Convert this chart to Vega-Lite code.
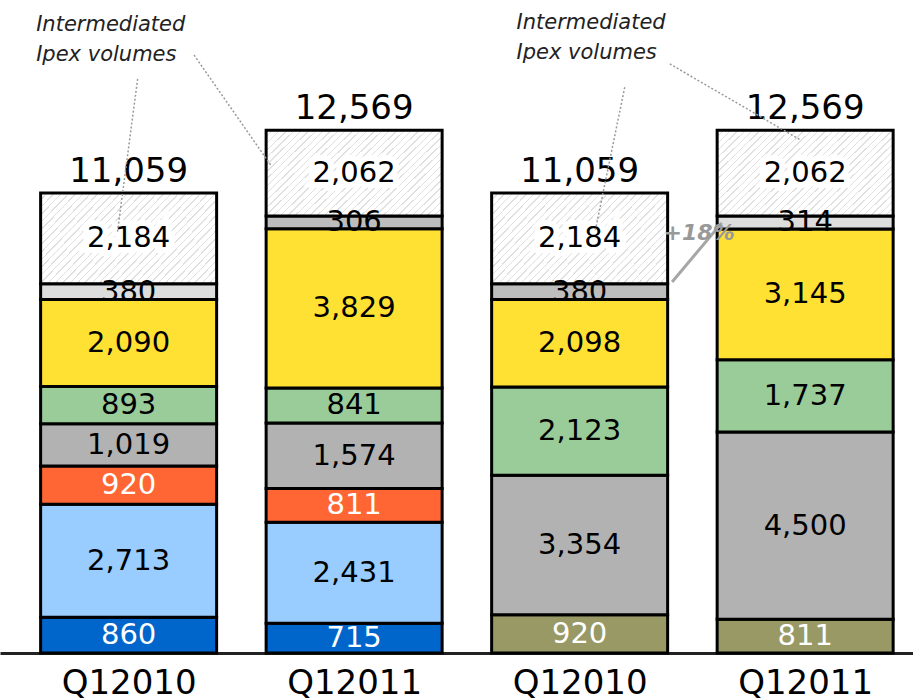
{
  "$schema": "https://vega.github.io/schema/vega-lite/v6.json",
  "width": 913,
  "height": 653,
  "autosize": "none",
  "padding": {"left": 0, "right": 0, "top": 0, "bottom": 47},
  "background": "white",
  "config": {"view": {"stroke": null}},
  "datasets": {
    "volumes": [
      {"bar": 1, "quarter": "Q12010", "series": "Series 1", "value": 860},
      {"bar": 1, "quarter": "Q12010", "series": "Series 2", "value": 2713},
      {"bar": 1, "quarter": "Q12010", "series": "Series 3", "value": 920},
      {"bar": 1, "quarter": "Q12010", "series": "Series 4", "value": 1019},
      {"bar": 1, "quarter": "Q12010", "series": "Series 5", "value": 893},
      {"bar": 1, "quarter": "Q12010", "series": "Series 6", "value": 2090},
      {"bar": 1, "quarter": "Q12010", "series": "Series 7a", "value": 380},
      {"bar": 1, "quarter": "Q12010", "series": "Series 8", "value": 2184},
      {"bar": 2, "quarter": "Q12011", "series": "Series 1", "value": 715},
      {"bar": 2, "quarter": "Q12011", "series": "Series 2", "value": 2431},
      {"bar": 2, "quarter": "Q12011", "series": "Series 3", "value": 811},
      {"bar": 2, "quarter": "Q12011", "series": "Series 4", "value": 1574},
      {"bar": 2, "quarter": "Q12011", "series": "Series 5", "value": 841},
      {"bar": 2, "quarter": "Q12011", "series": "Series 6", "value": 3829},
      {"bar": 2, "quarter": "Q12011", "series": "Series 7b", "value": 306},
      {"bar": 2, "quarter": "Q12011", "series": "Series 8", "value": 2062},
      {"bar": 3, "quarter": "Q12010", "series": "Series 0", "value": 920},
      {"bar": 3, "quarter": "Q12010", "series": "Series 4", "value": 3354},
      {"bar": 3, "quarter": "Q12010", "series": "Series 5", "value": 2123},
      {"bar": 3, "quarter": "Q12010", "series": "Series 6", "value": 2098},
      {"bar": 3, "quarter": "Q12010", "series": "Series 7b", "value": 380},
      {"bar": 3, "quarter": "Q12010", "series": "Series 8", "value": 2184},
      {"bar": 4, "quarter": "Q12011", "series": "Series 0", "value": 811},
      {"bar": 4, "quarter": "Q12011", "series": "Series 4", "value": 4500},
      {"bar": 4, "quarter": "Q12011", "series": "Series 5", "value": 1737},
      {"bar": 4, "quarter": "Q12011", "series": "Series 6", "value": 3145},
      {"bar": 4, "quarter": "Q12011", "series": "Series 7a", "value": 314},
      {"bar": 4, "quarter": "Q12011", "series": "Series 8", "value": 2062}
    ],
    "notes": [
      {"x": 0.59, "y": 14950, "label": ["Intermediated", "Ipex volumes"]},
      {"x": 2.72, "y": 15000, "label": ["Intermediated", "Ipex volumes"]}
    ],
    "leaders": [
      {"x": 1.04, "y": 13800, "x2": 0.95, "y2": 10100},
      {"x": 1.29, "y": 14375, "x2": 1.63, "y2": 11730},
      {"x": 3.2, "y": 13600, "x2": 3.07, "y2": 10170},
      {"x": 3.4, "y": 14160, "x2": 3.98, "y2": 12330}
    ],
    "growth": [
      {"x": 3.41, "y": 8920, "x2": 3.63, "y2": 10340, "x3": 3.53, "y3": 10100, "label": "+18%"}
    ]
  },
  "layer": [
    {
      "data": {"name": "volumes"},
      "mark": {"type": "bar", "width": 176, "stroke": "black", "strokeWidth": 3},
      "encoding": {
        "x": {
          "field": "bar", "type": "quantitative",
          "scale": {"domain": [0.4518, 4.4561], "nice": false, "zero": false},
          "axis": {
            "values": [1, 2, 3, 4],
            "labelExpr": "datum.value === 1 || datum.value === 3 ? 'Q12010' : 'Q12011'",
            "title": null, "ticks": false, "grid": false,
            "domain": true, "domainColor": "#222", "domainWidth": 3,
            "labelFont": "DejaVu Sans", "labelFontSize": 34, "labelColor": "black",
            "labelPadding": 13, "labelFlush": false, "labelOverlap": false
          }
        },
        "y": {
          "field": "value", "type": "quantitative", "stack": "zero",
          "scale": {"domain": [0, 15697], "nice": false},
          "axis": null
        },
        "order": {"field": "series", "type": "ordinal", "sort": "ascending"},
        "fill": {
          "condition": {
            "test": "datum.series === 'Series 8'",
            "value": {
              "gradient": "linear", "x1": 0, "y1": 0, "x2": 1.2, "y2": 0.6,
              "stops": [
                {"offset": 0, "color": "#ffffff"}, {"offset": 0.0222, "color": "#ffffff"}, {"offset": 0.0222, "color": "#e0e0e0"}, {"offset": 0.0278, "color": "#e0e0e0"},
                {"offset": 0.0278, "color": "#ffffff"}, {"offset": 0.05, "color": "#ffffff"}, {"offset": 0.05, "color": "#e0e0e0"}, {"offset": 0.0556, "color": "#e0e0e0"},
                {"offset": 0.0556, "color": "#ffffff"}, {"offset": 0.0778, "color": "#ffffff"}, {"offset": 0.0778, "color": "#e0e0e0"}, {"offset": 0.0833, "color": "#e0e0e0"},
                {"offset": 0.0833, "color": "#ffffff"}, {"offset": 0.1056, "color": "#ffffff"}, {"offset": 0.1056, "color": "#e0e0e0"}, {"offset": 0.1111, "color": "#e0e0e0"},
                {"offset": 0.1111, "color": "#ffffff"}, {"offset": 0.1333, "color": "#ffffff"}, {"offset": 0.1333, "color": "#e0e0e0"}, {"offset": 0.1389, "color": "#e0e0e0"},
                {"offset": 0.1389, "color": "#ffffff"}, {"offset": 0.1611, "color": "#ffffff"}, {"offset": 0.1611, "color": "#e0e0e0"}, {"offset": 0.1667, "color": "#e0e0e0"},
                {"offset": 0.1667, "color": "#ffffff"}, {"offset": 0.1889, "color": "#ffffff"}, {"offset": 0.1889, "color": "#e0e0e0"}, {"offset": 0.1944, "color": "#e0e0e0"},
                {"offset": 0.1944, "color": "#ffffff"}, {"offset": 0.2167, "color": "#ffffff"}, {"offset": 0.2167, "color": "#e0e0e0"}, {"offset": 0.2222, "color": "#e0e0e0"},
                {"offset": 0.2222, "color": "#ffffff"}, {"offset": 0.2444, "color": "#ffffff"}, {"offset": 0.2444, "color": "#e0e0e0"}, {"offset": 0.25, "color": "#e0e0e0"},
                {"offset": 0.25, "color": "#ffffff"}, {"offset": 0.2722, "color": "#ffffff"}, {"offset": 0.2722, "color": "#e0e0e0"}, {"offset": 0.2778, "color": "#e0e0e0"},
                {"offset": 0.2778, "color": "#ffffff"}, {"offset": 0.3, "color": "#ffffff"}, {"offset": 0.3, "color": "#e0e0e0"}, {"offset": 0.3056, "color": "#e0e0e0"},
                {"offset": 0.3056, "color": "#ffffff"}, {"offset": 0.3278, "color": "#ffffff"}, {"offset": 0.3278, "color": "#e0e0e0"}, {"offset": 0.3333, "color": "#e0e0e0"},
                {"offset": 0.3333, "color": "#ffffff"}, {"offset": 0.3556, "color": "#ffffff"}, {"offset": 0.3556, "color": "#e0e0e0"}, {"offset": 0.3611, "color": "#e0e0e0"},
                {"offset": 0.3611, "color": "#ffffff"}, {"offset": 0.3833, "color": "#ffffff"}, {"offset": 0.3833, "color": "#e0e0e0"}, {"offset": 0.3889, "color": "#e0e0e0"},
                {"offset": 0.3889, "color": "#ffffff"}, {"offset": 0.4111, "color": "#ffffff"}, {"offset": 0.4111, "color": "#e0e0e0"}, {"offset": 0.4167, "color": "#e0e0e0"},
                {"offset": 0.4167, "color": "#ffffff"}, {"offset": 0.4389, "color": "#ffffff"}, {"offset": 0.4389, "color": "#e0e0e0"}, {"offset": 0.4444, "color": "#e0e0e0"},
                {"offset": 0.4444, "color": "#ffffff"}, {"offset": 0.4667, "color": "#ffffff"}, {"offset": 0.4667, "color": "#e0e0e0"}, {"offset": 0.4722, "color": "#e0e0e0"},
                {"offset": 0.4722, "color": "#ffffff"}, {"offset": 0.4944, "color": "#ffffff"}, {"offset": 0.4944, "color": "#e0e0e0"}, {"offset": 0.5, "color": "#e0e0e0"},
                {"offset": 0.5, "color": "#ffffff"}, {"offset": 0.5222, "color": "#ffffff"}, {"offset": 0.5222, "color": "#e0e0e0"}, {"offset": 0.5278, "color": "#e0e0e0"},
                {"offset": 0.5278, "color": "#ffffff"}, {"offset": 0.55, "color": "#ffffff"}, {"offset": 0.55, "color": "#e0e0e0"}, {"offset": 0.5556, "color": "#e0e0e0"},
                {"offset": 0.5556, "color": "#ffffff"}, {"offset": 0.5778, "color": "#ffffff"}, {"offset": 0.5778, "color": "#e0e0e0"}, {"offset": 0.5833, "color": "#e0e0e0"},
                {"offset": 0.5833, "color": "#ffffff"}, {"offset": 0.6056, "color": "#ffffff"}, {"offset": 0.6056, "color": "#e0e0e0"}, {"offset": 0.6111, "color": "#e0e0e0"},
                {"offset": 0.6111, "color": "#ffffff"}, {"offset": 0.6333, "color": "#ffffff"}, {"offset": 0.6333, "color": "#e0e0e0"}, {"offset": 0.6389, "color": "#e0e0e0"},
                {"offset": 0.6389, "color": "#ffffff"}, {"offset": 0.6611, "color": "#ffffff"}, {"offset": 0.6611, "color": "#e0e0e0"}, {"offset": 0.6667, "color": "#e0e0e0"},
                {"offset": 0.6667, "color": "#ffffff"}, {"offset": 0.6889, "color": "#ffffff"}, {"offset": 0.6889, "color": "#e0e0e0"}, {"offset": 0.6944, "color": "#e0e0e0"},
                {"offset": 0.6944, "color": "#ffffff"}, {"offset": 0.7167, "color": "#ffffff"}, {"offset": 0.7167, "color": "#e0e0e0"}, {"offset": 0.7222, "color": "#e0e0e0"},
                {"offset": 0.7222, "color": "#ffffff"}, {"offset": 0.7444, "color": "#ffffff"}, {"offset": 0.7444, "color": "#e0e0e0"}, {"offset": 0.75, "color": "#e0e0e0"},
                {"offset": 0.75, "color": "#ffffff"}, {"offset": 0.7722, "color": "#ffffff"}, {"offset": 0.7722, "color": "#e0e0e0"}, {"offset": 0.7778, "color": "#e0e0e0"},
                {"offset": 0.7778, "color": "#ffffff"}, {"offset": 0.8, "color": "#ffffff"}, {"offset": 0.8, "color": "#e0e0e0"}, {"offset": 0.8056, "color": "#e0e0e0"},
                {"offset": 0.8056, "color": "#ffffff"}, {"offset": 0.8278, "color": "#ffffff"}, {"offset": 0.8278, "color": "#e0e0e0"}, {"offset": 0.8333, "color": "#e0e0e0"},
                {"offset": 0.8333, "color": "#ffffff"}, {"offset": 0.8556, "color": "#ffffff"}, {"offset": 0.8556, "color": "#e0e0e0"}, {"offset": 0.8611, "color": "#e0e0e0"},
                {"offset": 0.8611, "color": "#ffffff"}, {"offset": 0.8833, "color": "#ffffff"}, {"offset": 0.8833, "color": "#e0e0e0"}, {"offset": 0.8889, "color": "#e0e0e0"},
                {"offset": 0.8889, "color": "#ffffff"}, {"offset": 0.9111, "color": "#ffffff"}, {"offset": 0.9111, "color": "#e0e0e0"}, {"offset": 0.9167, "color": "#e0e0e0"},
                {"offset": 0.9167, "color": "#ffffff"}, {"offset": 0.9389, "color": "#ffffff"}, {"offset": 0.9389, "color": "#e0e0e0"}, {"offset": 0.9444, "color": "#e0e0e0"},
                {"offset": 0.9444, "color": "#ffffff"}, {"offset": 0.9667, "color": "#ffffff"}, {"offset": 0.9667, "color": "#e0e0e0"}, {"offset": 0.9722, "color": "#e0e0e0"},
                {"offset": 0.9722, "color": "#ffffff"}, {"offset": 0.9944, "color": "#ffffff"}, {"offset": 0.9944, "color": "#e0e0e0"}, {"offset": 1, "color": "#e0e0e0"}
              ]
            }
          },
          "field": "series", "type": "nominal", "legend": null,
          "scale": {
            "domain": ["Series 0", "Series 1", "Series 2", "Series 3", "Series 4", "Series 5", "Series 6", "Series 7a", "Series 7b", "Series 8"],
            "range": ["#999966", "#0066CC", "#99CCFF", "#FF6633", "#B2B2B2", "#99CC99", "#FFE133", "#DDDDDD", "#BDBDBD", "#F2F2F2"]
          }
        }
      }
    },
    {
      "data": {"name": "volumes"},
      "mark": {"type": "text", "font": "DejaVu Sans", "fontSize": 29, "baseline": "middle", "align": "center", "fill": "white", "stroke": "white", "strokeWidth": 12, "strokeJoin": "miter"},
      "encoding": {
        "x": {"field": "bar", "type": "quantitative"},
        "y": {"field": "value", "type": "quantitative", "stack": "zero", "bandPosition": 0.5},
        "order": {"field": "series", "type": "ordinal", "sort": "ascending"},
        "text": {"field": "value", "type": "quantitative", "format": ","},
        "opacity": {
          "condition": {"test": "datum.series === 'Series 8'", "value": 1},
          "value": 0
        }
      }
    },
    {
      "data": {"name": "volumes"},
      "mark": {"type": "text", "font": "DejaVu Sans", "fontSize": 29, "baseline": "middle", "align": "center"},
      "encoding": {
        "x": {"field": "bar", "type": "quantitative"},
        "y": {"field": "value", "type": "quantitative", "stack": "zero", "bandPosition": 0.5},
        "order": {"field": "series", "type": "ordinal", "sort": "ascending"},
        "text": {"field": "value", "type": "quantitative", "format": ","},
        "color": {
          "condition": {"test": "indexof(['Series 0', 'Series 1', 'Series 3'], datum.series) >= 0", "value": "white"},
          "value": "black"
        }
      }
    },
    {
      "data": {"name": "volumes"},
      "transform": [{"aggregate": [{"op": "sum", "field": "value", "as": "total"}], "groupby": ["bar"]}],
      "mark": {"type": "text", "font": "DejaVu Sans", "fontSize": 34, "baseline": "alphabetic", "align": "center", "dy": -11, "color": "black"},
      "encoding": {
        "x": {"field": "bar", "type": "quantitative"},
        "y": {"field": "total", "type": "quantitative"},
        "text": {"field": "total", "type": "quantitative", "format": ","}
      }
    },
    {
      "data": {"name": "leaders"},
      "mark": {"type": "rule", "color": "#999999", "strokeWidth": 1.5, "strokeDash": [2, 2]},
      "encoding": {
        "x": {"field": "x", "type": "quantitative"},
        "y": {"field": "y", "type": "quantitative"},
        "x2": {"field": "x2"},
        "y2": {"field": "y2"}
      }
    },
    {
      "data": {"name": "notes"},
      "mark": {"type": "text", "font": "DejaVu Sans", "fontSize": 21, "fontStyle": "italic", "align": "left", "baseline": "alphabetic", "lineHeight": 30, "color": "#222222"},
      "encoding": {
        "x": {"field": "x", "type": "quantitative"},
        "y": {"field": "y", "type": "quantitative"},
        "text": {"field": "label"}
      }
    },
    {
      "data": {"name": "growth"},
      "mark": {"type": "rule", "color": "#A6A6A6", "strokeWidth": 3},
      "encoding": {
        "x": {"field": "x", "type": "quantitative"},
        "y": {"field": "y", "type": "quantitative"},
        "x2": {"field": "x2"},
        "y2": {"field": "y2"}
      }
    },
    {
      "data": {"name": "growth"},
      "mark": {"type": "text", "font": "DejaVu Sans", "fontSize": 22, "fontStyle": "italic", "fontWeight": "bold", "align": "center", "baseline": "middle", "color": "#999999"},
      "encoding": {
        "x": {"field": "x3", "type": "quantitative"},
        "y": {"field": "y3", "type": "quantitative"},
        "text": {"field": "label"}
      }
    }
  ]
}
